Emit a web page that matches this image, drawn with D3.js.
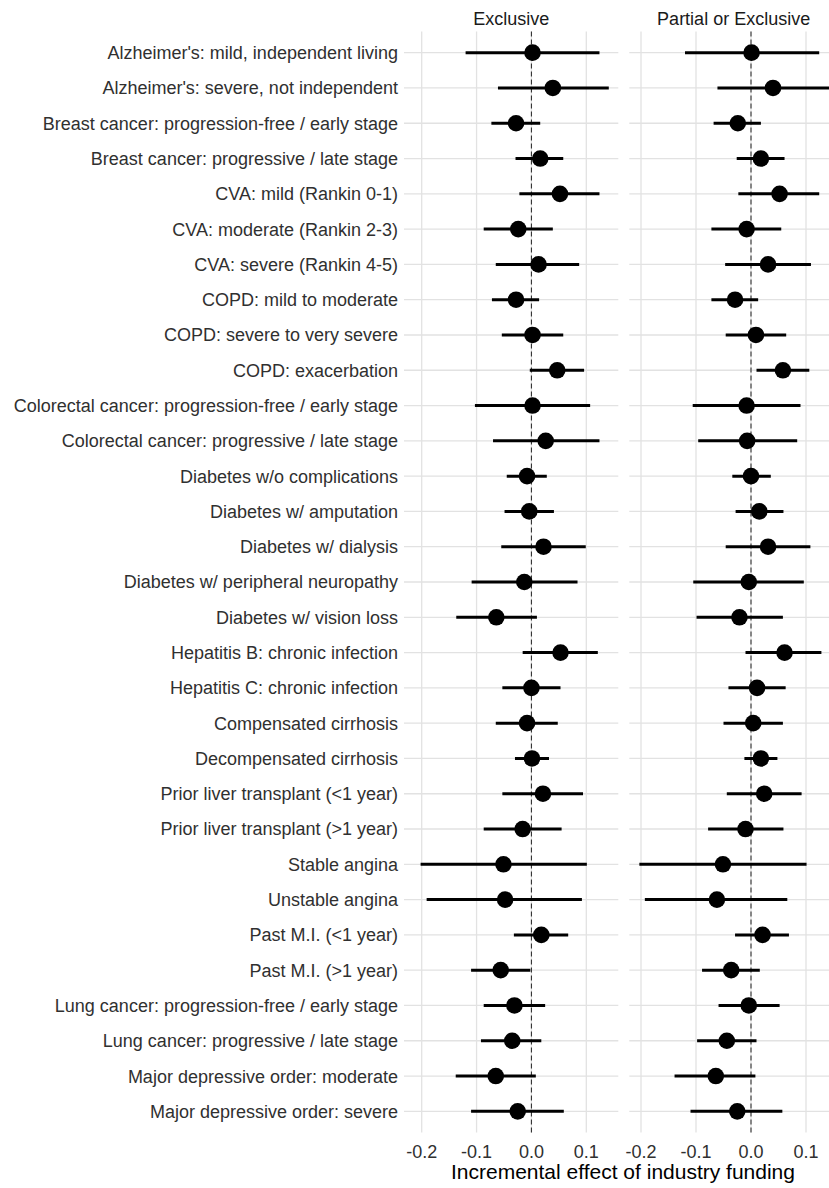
<!DOCTYPE html>
<html>
<head>
<meta charset="utf-8">
<script src="https://cdn.jsdelivr.net/npm/d3@7"></script>
<style>
  html, body { margin: 0; padding: 0; background: #fff; }
  svg { display: block; font-family: "Liberation Sans", Arial, sans-serif; }
</style>
</head>
<body>
<svg id="chart" width="829" height="1188"></svg>
<script>
// Health states (top to bottom)
const categories = [
  "Alzheimer's: mild, independent living",
  "Alzheimer's: severe, not independent",
  "Breast cancer: progression-free / early stage",
  "Breast cancer: progressive / late stage",
  "CVA: mild (Rankin 0-1)",
  "CVA: moderate (Rankin 2-3)",
  "CVA: severe (Rankin 4-5)",
  "COPD: mild to moderate",
  "COPD: severe to very severe",
  "COPD: exacerbation",
  "Colorectal cancer: progression-free / early stage",
  "Colorectal cancer: progressive / late stage",
  "Diabetes w/o complications",
  "Diabetes w/ amputation",
  "Diabetes w/ dialysis",
  "Diabetes w/ peripheral neuropathy",
  "Diabetes w/ vision loss",
  "Hepatitis B: chronic infection",
  "Hepatitis C: chronic infection",
  "Compensated cirrhosis",
  "Decompensated cirrhosis",
  "Prior liver transplant (<1 year)",
  "Prior liver transplant (>1 year)",
  "Stable angina",
  "Unstable angina",
  "Past M.I. (<1 year)",
  "Past M.I. (>1 year)",
  "Lung cancer: progression-free / early stage",
  "Lung cancer: progressive / late stage",
  "Major depressive order: moderate",
  "Major depressive order: severe"
];

const panels = ["Exclusive", "Partial or Exclusive"];

// Exclusive funding: estimate, lower and upper 95% bounds
const exclEst = [0.002, 0.039, -0.028, 0.016, 0.052, -0.024, 0.013, -0.028, 0.002, 0.047,
  0.002, 0.026, -0.008, -0.004, 0.022, -0.013, -0.064, 0.053, 0.000, -0.008,
  0.001, 0.021, -0.016, -0.051, -0.048, 0.018, -0.056, -0.031, -0.035, -0.065, -0.025];
const exclLow = [-0.120, -0.061, -0.073, -0.029, -0.022, -0.087, -0.065, -0.072, -0.054, -0.003,
  -0.103, -0.070, -0.045, -0.049, -0.055, -0.109, -0.137, -0.016, -0.053, -0.065,
  -0.030, -0.053, -0.087, -0.202, -0.191, -0.032, -0.110, -0.087, -0.092, -0.138, -0.110];
const exclHigh = [0.124, 0.141, 0.016, 0.058, 0.124, 0.039, 0.087, 0.014, 0.058, 0.096,
  0.107, 0.124, 0.028, 0.041, 0.099, 0.084, 0.010, 0.121, 0.053, 0.048,
  0.032, 0.094, 0.055, 0.101, 0.092, 0.067, -0.002, 0.025, 0.018, 0.008, 0.059];

// Partial or exclusive funding: estimate, lower and upper 95% bounds
const partEst = [0.001, 0.040, -0.024, 0.018, 0.052, -0.008, 0.031, -0.029, 0.009, 0.058,
  -0.008, -0.007, 0.000, 0.015, 0.031, -0.004, -0.021, 0.061, 0.011, 0.004,
  0.018, 0.024, -0.010, -0.051, -0.062, 0.021, -0.036, -0.004, -0.044, -0.064, -0.025];
const partLow = [-0.120, -0.061, -0.068, -0.026, -0.023, -0.072, -0.047, -0.072, -0.046, 0.010,
  -0.106, -0.096, -0.034, -0.028, -0.046, -0.105, -0.099, -0.010, -0.041, -0.050,
  -0.012, -0.044, -0.078, -0.203, -0.193, -0.029, -0.089, -0.059, -0.098, -0.139, -0.110];
const partHigh = [0.124, 0.160, 0.018, 0.061, 0.124, 0.055, 0.109, 0.013, 0.064, 0.106,
  0.090, 0.084, 0.036, 0.059, 0.108, 0.096, 0.058, 0.128, 0.063, 0.058,
  0.048, 0.092, 0.059, 0.101, 0.066, 0.069, 0.016, 0.052, 0.010, 0.008, 0.057];

const xTicks = [-0.2, -0.1, 0.0, 0.1];
const xTitle = "Incremental effect of industry funding";

const series = [
  { name: panels[0], est: exclEst, low: exclLow, high: exclHigh },
  { name: panels[1], est: partEst, low: partLow, high: partHigh }
];

const svg = d3.select("#chart");

// Layout
const plotTop = 31.5, plotBottom = 1132.5;
const panelBox = [
  { left: 404, right: 618.3, r0: 421.7, r1: 586.3 },
  { left: 629.3, right: 845, r0: 641, r1: 806 }
];

const y = d3.scalePoint()
  .domain(categories)
  .range([plotTop, plotBottom])
  .padding(0.6);

const gridColor = "#e2e2e2";
const textColor = "#303030";
const textSize = 18;

series.forEach((s, pi) => {
  const box = panelBox[pi];
  const x = d3.scaleLinear().domain([-0.2, 0.1]).range([box.r0, box.r1]);
  const g = svg.append("g");

  // horizontal gridlines
  g.selectAll("line.hgrid").data(categories).join("line")
    .attr("class", "hgrid")
    .attr("x1", box.left).attr("x2", box.right)
    .attr("y1", d => y(d)).attr("y2", d => y(d))
    .attr("stroke", gridColor).attr("stroke-width", 1.3);

  // vertical gridlines
  g.selectAll("line.vgrid").data(xTicks).join("line")
    .attr("class", "vgrid")
    .attr("x1", d => x(d)).attr("x2", d => x(d))
    .attr("y1", plotTop).attr("y2", plotBottom)
    .attr("stroke", gridColor).attr("stroke-width", 1.3);

  // zero reference
  g.append("line")
    .attr("x1", x(0)).attr("x2", x(0))
    .attr("y1", plotTop).attr("y2", plotBottom)
    .attr("stroke", "#333").attr("stroke-width", 1.1)
    .attr("stroke-dasharray", "5,3");

  // confidence intervals
  g.selectAll("line.ci").data(categories).join("line")
    .attr("class", "ci")
    .attr("x1", (d, i) => x(s.low[i]))
    .attr("x2", (d, i) => x(s.high[i]))
    .attr("y1", d => y(d)).attr("y2", d => y(d))
    .attr("stroke", "#000").attr("stroke-width", 3);

  // point estimates
  g.selectAll("circle.est").data(categories).join("circle")
    .attr("class", "est")
    .attr("cx", (d, i) => x(s.est[i]))
    .attr("cy", d => y(d))
    .attr("r", 8.3)
    .attr("fill", "#000");

  // x axis tick labels
  g.selectAll("text.tick").data(xTicks).join("text")
    .attr("class", "tick")
    .attr("x", d => x(d))
    .attr("y", 1158)
    .attr("text-anchor", "middle")
    .attr("font-size", textSize)
    .attr("fill", textColor)
    .text(d => d3.format(".1f")(d).replace("−", "-"));

  // facet strip label
  g.append("text")
    .attr("x", (box.left + Math.min(box.right, 838)) / 2)
    .attr("y", 25)
    .attr("text-anchor", "middle")
    .attr("font-size", textSize)
    .attr("fill", "#1a1a1a")
    .text(s.name);
});

// y axis labels
svg.append("g").selectAll("text").data(categories).join("text")
  .attr("x", 398)
  .attr("y", d => y(d))
  .attr("dy", "0.36em")
  .attr("text-anchor", "end")
  .attr("font-size", textSize)
  .attr("fill", textColor)
  .text(d => d);

// x axis title
svg.append("text")
  .attr("x", 623)
  .attr("y", 1179)
  .attr("text-anchor", "middle")
  .attr("font-size", 21)
  .attr("fill", "#000")
  .text(xTitle);
</script>
</body>
</html>
